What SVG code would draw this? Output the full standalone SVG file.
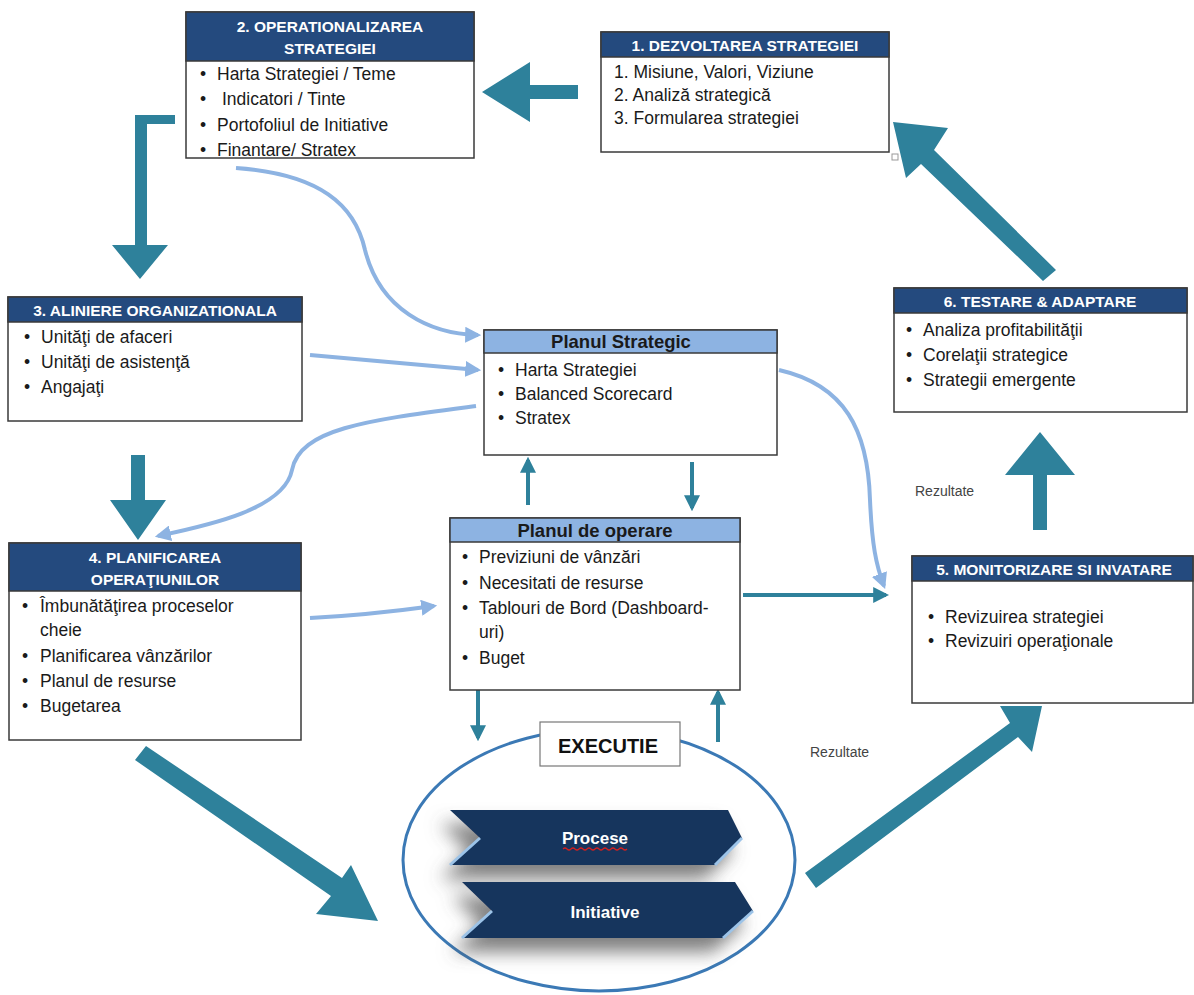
<svg xmlns="http://www.w3.org/2000/svg" width="1194" height="995" viewBox="0 0 1194 995">
<defs>
<style>
.box{fill:#fff;stroke:#3a3a3a;stroke-width:1.5}
.hd{fill:#244a7e;stroke:#3a3a3a;stroke-width:1.5}
.hl{fill:#8db3e2;stroke:#3a3a3a;stroke-width:1.5}
.ht{font-family:"Liberation Sans",Arial,sans-serif;font-weight:bold;font-size:15.5px;fill:#fff;text-anchor:middle}
.hk{font-family:"Liberation Sans",Arial,sans-serif;font-weight:bold;font-size:18.5px;fill:#1a1a1a;text-anchor:middle}
.t{font-family:"Liberation Sans",Arial,sans-serif;font-size:17.5px;fill:#1a1a1a}
.r{font-family:"Liberation Sans",Arial,sans-serif;font-size:14px;fill:#444}
.big{fill:#2e819b}
.lb{fill:none;stroke:#8db3e2;stroke-width:4}
.tl{fill:none;stroke:#2e819b;stroke-width:4}
.chev{fill:#17365d}
.bev{fill:none;stroke:#9cc3e8;stroke-width:3}
.ct{font-family:"Liberation Sans",Arial,sans-serif;font-weight:bold;font-size:17px;fill:#fff;text-anchor:middle}
</style>
<marker id="ml" viewBox="0 0 10 10" refX="8" refY="5" markerWidth="4" markerHeight="4" orient="auto" markerUnits="strokeWidth"><path d="M0,0 L10,5 L0,10 z" fill="#8db3e2"/></marker>
<marker id="mt" viewBox="0 0 10 10" refX="8" refY="5" markerWidth="4" markerHeight="4" orient="auto" markerUnits="strokeWidth"><path d="M0,0 L10,5 L0,10 z" fill="#2e819b"/></marker>
<filter id="sh" x="-30%" y="-50%" width="160%" height="220%"><feDropShadow dx="-10" dy="14" stdDeviation="9" flood-color="#555" flood-opacity="0.75"/></filter>
</defs>
<rect width="1194" height="995" fill="#fff"/>

<g id="connectors">
<polygon class="big" points="578,85 530,85 530,62 482,92 530,122 530,99 578,99"/>
<polygon class="big" points="175,115 135,115 135,245 112,245 140,279 168,245 147,245 147,124 175,124"/>
<polygon class="big" points="131,455 145,455 145,500 166,500 138,540 110,500 131,500"/>
<polygon class="big" points="135,760 146,746 342,878 351,865 378,921 316,914 331,896"/>
<polygon class="big" points="805,873 816,888 1018,737 1032,752 1042,706 1000,706 1010,723"/>
<polygon class="big" points="1033,530 1047,530 1047,475 1075,475 1040,432 1005,475 1033,475"/>
<polygon class="big" points="1056,270 1043,281 921,164 906,178 893,122 948,128 934,150"/>
<path class="lb" marker-end="url(#ml)" d="M236,168 C320,174 355,205 365,250 C380,310 430,334 478,335"/>
<path class="lb" marker-end="url(#ml)" d="M310,355 L478,370"/>
<path class="lb" marker-end="url(#ml)" d="M476,406 C370,420 300,428 292,470 C284,510 205,526 158,536"/>
<path class="lb" marker-end="url(#ml)" d="M779,370 C845,385 868,430 870,500 C872,545 876,565 884,586"/>
<path class="lb" marker-end="url(#ml)" d="M310,618 C350,616 390,612 434,606"/>
<path class="tl" marker-end="url(#mt)" d="M528,505 L528,460"/>
<path class="tl" marker-end="url(#mt)" d="M692,462 L692,508"/>
<path class="tl" marker-end="url(#mt)" d="M743,595 L886,595"/>
<path class="tl" marker-end="url(#mt)" d="M478,690 L478,738"/>
<path class="tl" marker-end="url(#mt)" d="M718,742 L718,692"/>
</g>

<g id="n1">
<rect class="box" x="601" y="32" width="288" height="120"/>
<rect class="hd" x="601" y="32" width="288" height="25"/>
<text class="ht" x="745" y="51">1. DEZVOLTAREA STRATEGIEI</text>
<text class="t" x="614" y="78">1. Misiune, Valori, Viziune</text>
<text class="t" x="614" y="101">2. Analiză strategică</text>
<text class="t" x="614" y="124">3. Formularea strategiei</text>
<rect x="892" y="154" width="6" height="6" fill="#fff" stroke="#999" stroke-width="1"/>
</g>

<g id="n2">
<rect class="box" x="186" y="12" width="288" height="146"/>
<rect class="hd" x="186" y="12" width="288" height="49"/>
<text class="ht" x="330" y="32">2. OPERATIONALIZAREA</text>
<text class="ht" x="330" y="54">STRATEGIEI</text>
<text class="t" y="80"><tspan x="200">•</tspan><tspan x="217">Harta Strategiei / Teme</tspan></text>
<text class="t" y="105"><tspan x="200">•</tspan><tspan x="222">Indicatori / Tinte</tspan></text>
<text class="t" y="131"><tspan x="200">•</tspan><tspan x="217">Portofoliul de Initiative</tspan></text>
<text class="t" y="156"><tspan x="200">•</tspan><tspan x="217">Finantare/ Stratex</tspan></text>
</g>

<g id="n3">
<rect class="box" x="8" y="297" width="294" height="124"/>
<rect class="hd" x="8" y="297" width="294" height="25"/>
<text class="ht" x="155" y="316">3. ALINIERE ORGANIZATIONALA</text>
<text class="t" y="343"><tspan x="24">•</tspan><tspan x="41">Unităţi de afaceri</tspan></text>
<text class="t" y="368"><tspan x="24">•</tspan><tspan x="41">Unităţi de asistenţă</tspan></text>
<text class="t" y="393"><tspan x="24">•</tspan><tspan x="41">Angajaţi</tspan></text>
</g>

<g id="ps">
<rect class="box" x="484" y="330" width="293" height="125"/>
<rect class="hl" x="484" y="330" width="293" height="23"/>
<text class="hk" x="621" y="348">Planul Strategic</text>
<text class="t" y="376"><tspan x="498">•</tspan><tspan x="515">Harta Strategiei</tspan></text>
<text class="t" y="400"><tspan x="498">•</tspan><tspan x="515">Balanced Scorecard</tspan></text>
<text class="t" y="424"><tspan x="498">•</tspan><tspan x="515">Stratex</tspan></text>
</g>

<g id="n6">
<rect class="box" x="894" y="288" width="293" height="124"/>
<rect class="hd" x="894" y="288" width="293" height="25"/>
<text class="ht" x="1040" y="307">6. TESTARE &amp; ADAPTARE</text>
<text class="t" y="336"><tspan x="906">•</tspan><tspan x="923">Analiza profitabilităţii</tspan></text>
<text class="t" y="361"><tspan x="906">•</tspan><tspan x="923">Corelaţii strategice</tspan></text>
<text class="t" y="386"><tspan x="906">•</tspan><tspan x="923">Strategii emergente</tspan></text>
</g>

<g id="n4">
<rect class="box" x="9" y="543" width="292" height="197"/>
<rect class="hd" x="9" y="543" width="292" height="48"/>
<text class="ht" x="155" y="563">4. PLANIFICAREA</text>
<text class="ht" x="155" y="585">OPERAŢIUNILOR</text>
<text class="t" y="612"><tspan x="22">•</tspan><tspan x="40">Îmbunătăţirea proceselor</tspan></text>
<text class="t" x="40" y="636">cheie</text>
<text class="t" y="662"><tspan x="22">•</tspan><tspan x="40">Planificarea vânzărilor</tspan></text>
<text class="t" y="687"><tspan x="22">•</tspan><tspan x="40">Planul de resurse</tspan></text>
<text class="t" y="712"><tspan x="22">•</tspan><tspan x="40">Bugetarea</tspan></text>
</g>

<g id="po">
<rect class="box" x="450" y="518" width="290" height="172"/>
<rect class="hl" x="450" y="518" width="290" height="24"/>
<text class="hk" x="595" y="537">Planul de operare</text>
<text class="t" y="563"><tspan x="462">•</tspan><tspan x="479">Previziuni de vânzări</tspan></text>
<text class="t" y="589"><tspan x="462">•</tspan><tspan x="479">Necesitati de resurse</tspan></text>
<text class="t" y="614"><tspan x="462">•</tspan><tspan x="479">Tablouri de Bord (Dashboard-</tspan></text>
<text class="t" x="479" y="638">uri)</text>
<text class="t" y="664"><tspan x="462">•</tspan><tspan x="479">Buget</tspan></text>
</g>

<g id="n5">
<rect class="box" x="912" y="556" width="281" height="147"/>
<rect class="hd" x="912" y="556" width="281" height="25"/>
<text class="ht" x="1054" y="575">5. MONITORIZARE SI INVATARE</text>
<text class="t" y="623"><tspan x="928">•</tspan><tspan x="945">Revizuirea strategiei</tspan></text>
<text class="t" y="647"><tspan x="928">•</tspan><tspan x="945">Revizuiri operaţionale</tspan></text>
</g>

<g id="exec">
<ellipse cx="599" cy="860" rx="196" ry="131" fill="none" stroke="#3b79b5" stroke-width="3"/>
<g filter="url(#sh)">
<polygon class="chev" points="450,810 728,810 742,838 715,865 450,865 480,838"/>
<polygon class="chev" points="462,882 735,882 753,911 723,938 462,938 492,911"/>
</g>
<path class="bev" d="M450,865 L480,838 M742,838 L715,865"/>
<path class="bev" d="M462,938 L492,911 M753,911 L723,938"/>
<text class="ct" x="595" y="844">Procese</text>
<path d="M563,849 q2,-2 4,0 t4,0 t4,0 t4,0 t4,0 t4,0 t4,0 t4,0 t4,0 t4,0 t4,0 t4,0 t4,0 t4,0 t4,0 t4,0" fill="none" stroke="#d02020" stroke-width="1.2"/>
<text class="ct" x="605" y="918">Initiative</text>
<rect x="540" y="722" width="140" height="44" fill="#fff" stroke="#777" stroke-width="1.2"/>
<text x="608" y="753" font-family="'Liberation Sans',Arial,sans-serif" font-weight="bold" font-size="20" fill="#111" text-anchor="middle">EXECUTIE</text>
</g>

<g id="labels">
<text class="r" x="915" y="496">Rezultate</text>
<text class="r" x="810" y="757">Rezultate</text>
</g>
</svg>
